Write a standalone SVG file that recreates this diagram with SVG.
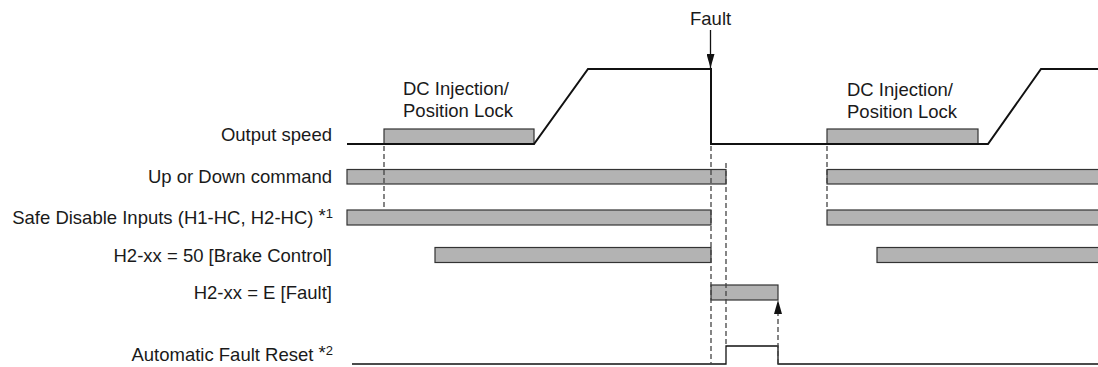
<svg xmlns="http://www.w3.org/2000/svg" width="1098" height="367" viewBox="0 0 1098 367">
<style>
text{font-family:"Liberation Sans",Arial,sans-serif;font-size:18.5px;fill:#1a1a1a}
.lbl{text-anchor:end}
.bar{fill:#b3b3b3;stroke:#333;stroke-width:1.2}
.sig{fill:none;stroke:#111;stroke-width:2}
.thin{fill:none;stroke:#111;stroke-width:1.3}
.dash{fill:none;stroke:#444;stroke-width:1.3;stroke-dasharray:5 3}
.sup{font-size:13px}
</style>
<defs>
<marker id="ah" viewBox="0 0 14 8" refX="14" refY="4" markerWidth="14" markerHeight="8" markerUnits="userSpaceOnUse" orient="auto">
<path d="M0,0 L14,4 L0,8 z" fill="#111"/>
</marker>
</defs>
<rect width="1098" height="367" fill="#fff"/>

<g id="labels">
<text class="lbl" x="332" y="141">Output speed</text>
<text class="lbl" x="332" y="183">Up or Down command</text>
<text class="lbl" x="333" y="223.5">Safe Disable Inputs (H1-HC, H2-HC) <tspan dy="-2">*</tspan><tspan class="sup" dy="-4">1</tspan></text>
<text class="lbl" x="332" y="261.5">H2-xx = 50 [Brake Control]</text>
<text class="lbl" x="332" y="298.5">H2-xx = E [Fault]</text>
<text class="lbl" x="333" y="361">Automatic Fault Reset <tspan dy="-2">*</tspan><tspan class="sup" dy="-4">2</tspan></text>
</g>

<g id="dc-left">
<rect class="bar" x="384" y="129" width="150" height="15"/>
<text x="403" y="95">DC Injection/</text>
<text x="403" y="117">Position Lock</text>
</g>
<g id="dc-right">
<rect class="bar" x="827" y="129" width="151" height="15"/>
<text x="847" y="96">DC Injection/</text>
<text x="847" y="118">Position Lock</text>
</g>

<g id="output-speed">
<polyline class="sig" points="347,144 534,144 588,69 711,69 711,144 988,144 1041,69 1098,69"/>
</g>

<g id="up-down">
<rect class="bar" x="347" y="169.5" width="379" height="14.5"/>
<rect class="bar" x="827" y="169.5" width="272" height="14.5"/>
</g>
<g id="safe-disable">
<rect class="bar" x="347" y="210" width="364" height="15"/>
<rect class="bar" x="827" y="210" width="272" height="15"/>
</g>
<g id="brake">
<rect class="bar" x="435" y="247.5" width="276" height="15"/>
<rect class="bar" x="877" y="247.5" width="222" height="15"/>
</g>
<g id="fault-out">
<rect class="bar" x="711" y="285" width="67" height="15"/>
</g>
<g id="auto-reset">
<polyline class="thin" points="352,364 726,364 726,346 778,346 778,364 1098,364"/>
</g>

<g id="fault-label">
<text x="690" y="25">Fault</text>
</g>

<g id="connectors">
<line class="thin" x1="710.5" y1="30" x2="710.5" y2="68" marker-end="url(#ah)"/>
<line class="dash" x1="384" y1="146" x2="384" y2="210"/>
<line class="dash" x1="827" y1="146" x2="827" y2="210"/>
<line class="dash" x1="711" y1="146" x2="711" y2="364"/>
<line class="dash" x1="726" y1="163" x2="726" y2="346"/>
<line class="dash" x1="778" y1="364" x2="778" y2="300" marker-end="url(#ah)"/>
</g>
</svg>
